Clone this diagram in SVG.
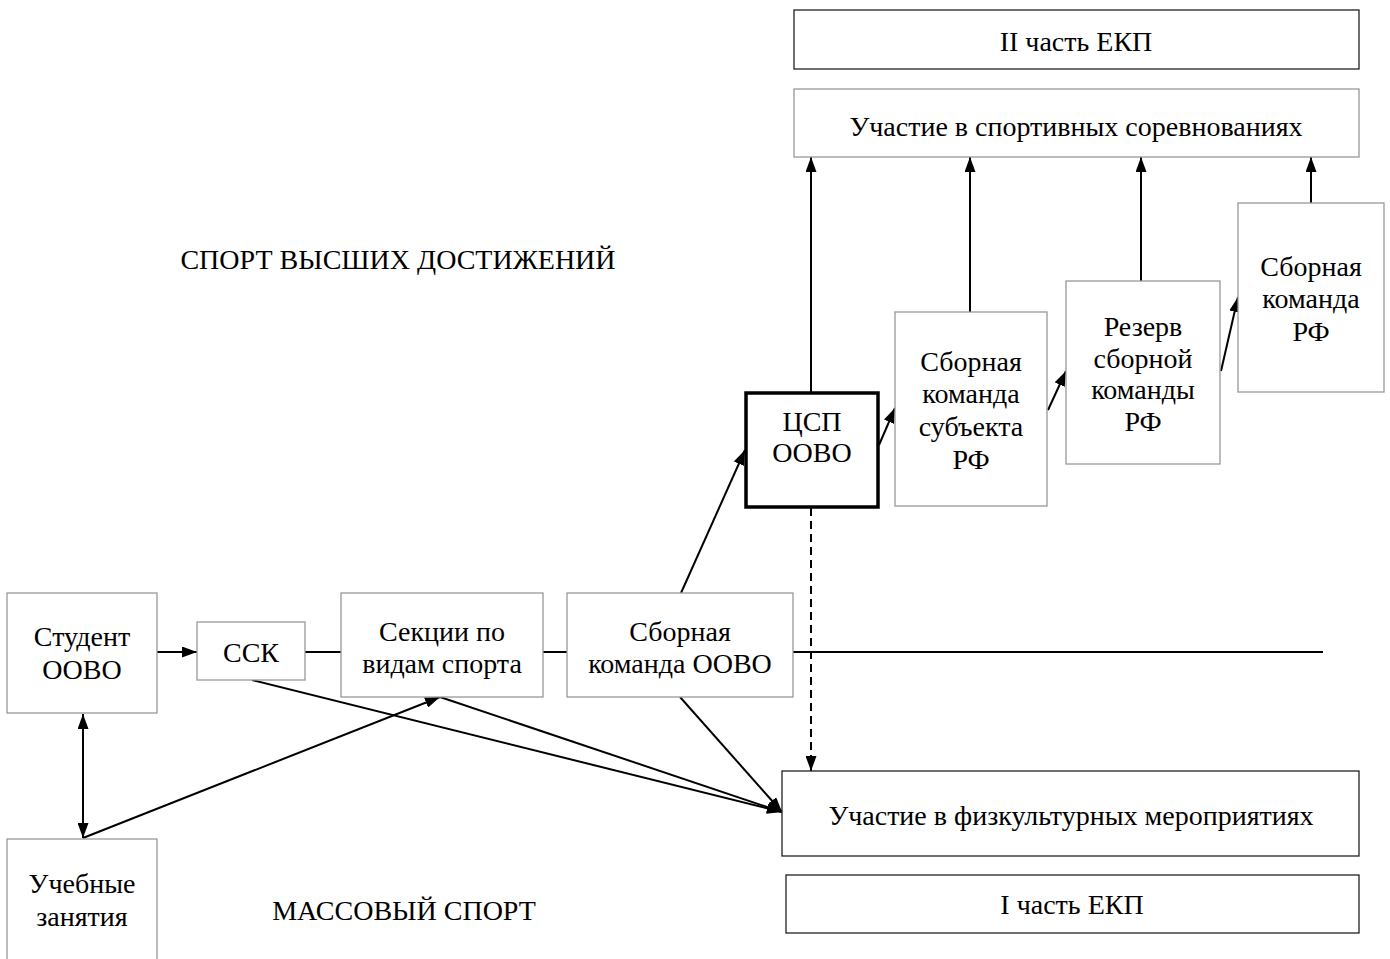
<svg xmlns="http://www.w3.org/2000/svg" width="1390" height="959" viewBox="0 0 1390 959">
<defs>
<marker id="ah" viewBox="0 0 15 11" refX="15" refY="5.5" markerWidth="15" markerHeight="11" markerUnits="userSpaceOnUse" orient="auto-start-reverse">
<path d="M0,0 L15,5.5 L0,11 Z" fill="#000"/>
</marker>
<style>
.g{fill:#fff;stroke:#999;stroke-width:1.3}
.k{fill:#fff;stroke:#222;stroke-width:1.3}
.t{font-size:28px;fill:#000;text-anchor:middle}
.c{stroke:#000;stroke-width:2;fill:none}
</style>
</defs>
<rect width="1390" height="959" fill="#fff"/>

<g id="connectors">
<line class="c" x1="305" y1="652" x2="341" y2="652"/>
<line class="c" x1="543" y1="652" x2="567" y2="652"/>
<line class="c" x1="793" y1="652" x2="1323" y2="652"/>
<line class="c" x1="157" y1="652" x2="197" y2="652" marker-end="url(#ah)"/>
<line class="c" x1="83" y1="714" x2="83" y2="838" marker-start="url(#ah)" marker-end="url(#ah)"/>
<line class="c" x1="83" y1="838" x2="440" y2="697" marker-end="url(#ah)"/>
<line class="c" x1="252" y1="680" x2="782" y2="812" marker-end="url(#ah)"/>
<line class="c" x1="440" y1="697" x2="782" y2="812" marker-end="url(#ah)"/>
<line class="c" x1="680" y1="697" x2="782" y2="812" marker-end="url(#ah)"/>
<line class="c" x1="681" y1="593" x2="745" y2="450" marker-end="url(#ah)"/>
<line class="c" x1="811" y1="392" x2="811" y2="157" marker-end="url(#ah)"/>
<line class="c" x1="811" y1="508" x2="811" y2="771" stroke-dasharray="8,5" marker-end="url(#ah)"/>
<line class="c" x1="879" y1="445" x2="895" y2="408" marker-end="url(#ah)"/>
<line class="c" x1="1048" y1="410" x2="1066" y2="371" marker-end="url(#ah)"/>
<line class="c" x1="1221" y1="371" x2="1238" y2="297" marker-end="url(#ah)"/>
<line class="c" x1="970" y1="312" x2="970" y2="157" marker-end="url(#ah)"/>
<line class="c" x1="1141" y1="281" x2="1141" y2="157" marker-end="url(#ah)"/>
<line class="c" x1="1311" y1="203" x2="1311" y2="157" marker-end="url(#ah)"/>
</g>

<g font-family="Liberation Serif, Times New Roman, serif">
<g id="ekp2"><rect class="k" x="794" y="10" width="565" height="59"/><text class="t" x="1076" y="51">II часть ЕКП</text></g>
<g id="sport-comp"><rect class="g" x="794" y="89" width="565" height="68"/><text class="t" x="1076" y="136">Участие в спортивных соревнованиях</text></g>
<g id="label-high"><text class="t" x="398" y="269">СПОРТ ВЫСШИХ ДОСТИЖЕНИЙ</text></g>
<g id="csp"><rect x="746" y="393" width="132" height="114" fill="#fff" stroke="#000" stroke-width="3.5"/><text class="t" x="812" y="431">ЦСП</text><text class="t" x="812" y="462">ООВО</text></g>
<g id="subj"><rect class="g" x="895" y="312" width="152" height="194"/><text class="t" x="971" y="371">Сборная</text><text class="t" x="971" y="403">команда</text><text class="t" x="971" y="436">субъекта</text><text class="t" x="971" y="469">РФ</text></g>
<g id="reserve"><rect class="g" x="1066" y="281" width="154" height="183"/><text class="t" x="1143" y="336">Резерв</text><text class="t" x="1143" y="368">сборной</text><text class="t" x="1143" y="399">команды</text><text class="t" x="1143" y="431">РФ</text></g>
<g id="rf"><rect class="g" x="1238" y="203" width="146" height="189"/><text class="t" x="1311" y="276">Сборная</text><text class="t" x="1311" y="308">команда</text><text class="t" x="1311" y="341">РФ</text></g>
<g id="student"><rect class="g" x="7" y="593" width="150" height="120"/><text class="t" x="82" y="646">Студент</text><text class="t" x="82" y="679">ООВО</text></g>
<g id="ssk"><rect class="g" x="197" y="622" width="108" height="58"/><text class="t" x="251" y="662">ССК</text></g>
<g id="sections"><rect class="g" x="341" y="593" width="202" height="104"/><text class="t" x="442" y="641">Секции по</text><text class="t" x="442" y="673">видам спорта</text></g>
<g id="team"><rect class="g" x="567" y="593" width="226" height="104"/><text class="t" x="680" y="641">Сборная</text><text class="t" x="680" y="673">команда ООВО</text></g>
<g id="fiz"><rect class="k" x="782" y="771" width="577" height="85"/><text class="t" x="1071" y="825">Участие в физкультурных мероприятиях</text></g>
<g id="ekp1"><rect class="k" x="786" y="875" width="573" height="58"/><text class="t" x="1072" y="914">I часть ЕКП</text></g>
<g id="study"><rect class="g" x="7" y="839" width="150" height="130"/><text class="t" x="82" y="893">Учебные</text><text class="t" x="82" y="926">занятия</text></g>
<g id="label-mass"><text class="t" x="404" y="920">МАССОВЫЙ СПОРТ</text></g>
</g>
</svg>
